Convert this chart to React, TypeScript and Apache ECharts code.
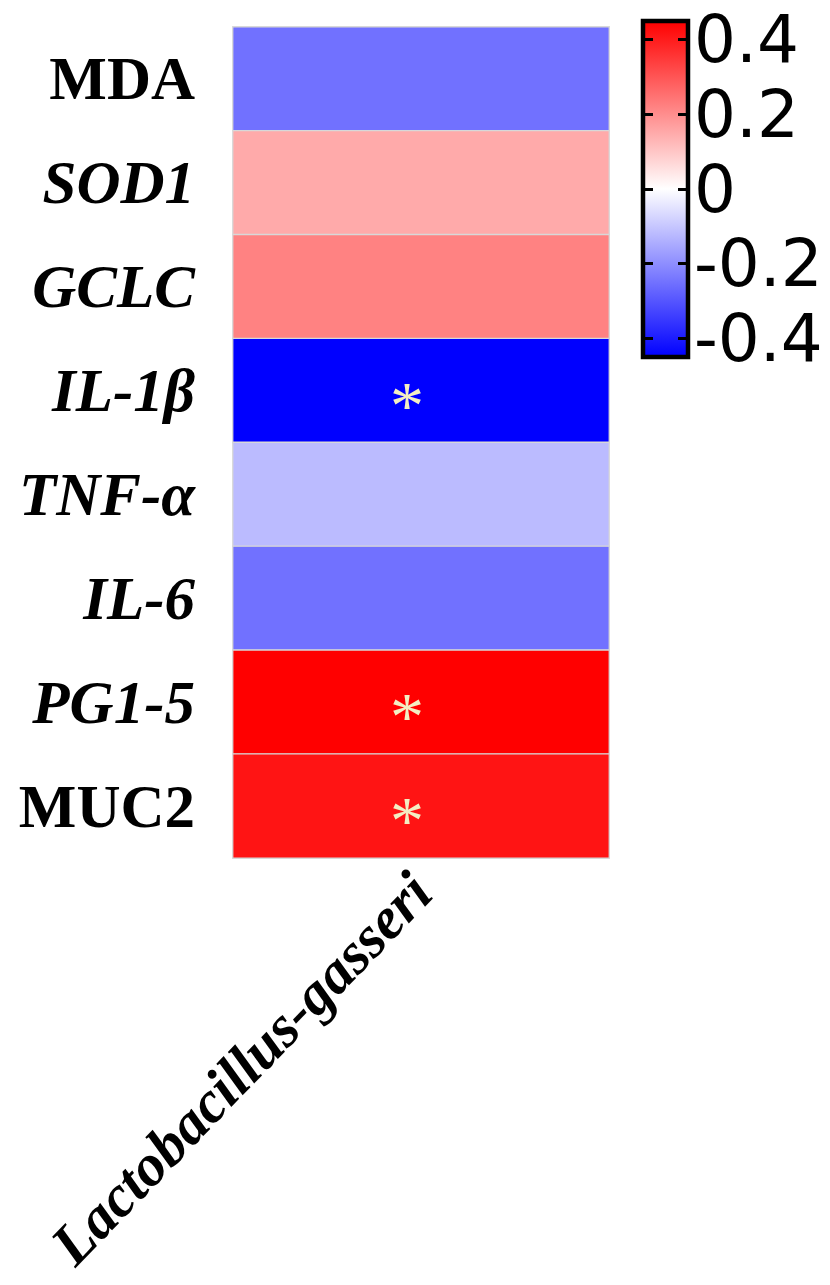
import React, { useEffect, useRef } from "react";
import * as echarts from "echarts";

const columns = ["Lactobacillus-gasseri"];
const rows = ["MDA", "SOD1", "GCLC", "IL-1β", "TNF-α", "IL-6", "PG1-5", "MUC2"];
const italicRows = [false, true, true, true, true, true, true, false];
const values = [-0.25, 0.15, 0.22, -0.46, -0.12, -0.25, 0.46, 0.415];
const significant = [false, false, false, true, false, false, true, true];
const colorMin = -0.45;
const colorMax = 0.45;
const colorbarTicks = [-0.4, -0.2, 0, 0.2, 0.4];
const colorbarColors = ["#0000ff", "#ffffff", "#ff0000"];

export default function App() {
  const ref = useRef<HTMLDivElement>(null);
  useEffect(() => {
    if (!ref.current) return;
    const chart = echarts.init(ref.current, undefined, { renderer: "svg" });
    const data = values.map((v, i) => [0, i, v]);
    const labelFont = {
      fontFamily: "Liberation Serif",
      fontWeight: "bold" as const,
      fontSize: 61,
      color: "#000",
    };
    const cb = { left: 643, top: 21, width: 45, height: 336 };
    chart.setOption({
      animation: false,
      backgroundColor: "#fff",
      grid: [
        { left: 233, top: 27, width: 376, height: 831, outerBoundsMode: "none", containLabel: false },
        {
          left: cb.left,
          top: cb.top,
          width: cb.width,
          height: cb.height,
          outerBoundsMode: "none",
          containLabel: false,
        },
      ],
      xAxis: [
        {
          type: "category",
          data: columns,
          gridIndex: 0,
          axisLine: { show: false },
          axisTick: { show: false },
          axisLabel: {
            rotate: 46,
            margin: 24,
            ...labelFont,
            fontSize: 59,
            fontStyle: "italic",
          },
        },
        { type: "value", gridIndex: 1, show: false, min: 0, max: 1 },
      ],
      yAxis: [
        {
          type: "category",
          data: rows,
          inverse: true,
          gridIndex: 0,
          axisLine: { show: false },
          axisTick: { show: false },
          axisLabel: {
            margin: 38,
            formatter: (v: string, i: number) => (italicRows[i] ? `{i|${v}}` : `{n|${v}}`),
            rich: {
              i: { ...labelFont, fontStyle: "italic" },
              n: { ...labelFont, fontStyle: "normal" },
            },
          },
        },
        {
          type: "value",
          gridIndex: 1,
          position: "left",
          min: colorMin,
          max: colorMax,
          z: 10,
          axisLine: { show: false },
          splitLine: { show: false },
          axisTick: {
            show: true,
            inside: true,
            length: 10,
            customValues: colorbarTicks,
            lineStyle: { color: "#000", width: 3 },
          },
          axisLabel: { show: false },
        },
        {
          type: "value",
          gridIndex: 1,
          position: "right",
          min: colorMin,
          max: colorMax,
          z: 10,
          axisLine: { show: false },
          splitLine: { show: false },
          axisTick: {
            show: true,
            inside: true,
            length: 10,
            customValues: colorbarTicks,
            lineStyle: { color: "#000", width: 3 },
          },
          axisLabel: {
            show: true,
            customValues: colorbarTicks,
            margin: 6,
            fontFamily: "DejaVu Sans",
            fontSize: 66,
            color: "#000",
            formatter: (v: number) => (v === 0 ? "0" : String(Math.round(v * 10) / 10)),
          },
        },
      ],
      visualMap: {
        show: false,
        seriesIndex: 0,
        min: colorMin,
        max: colorMax,
        inRange: { color: colorbarColors },
      },
      graphic: [
        {
          type: "rect",
          z: 1,
          shape: { x: cb.left, y: cb.top, width: cb.width, height: cb.height },
          style: {
            fill: new echarts.graphic.LinearGradient(0, 0, 0, 1, [
              { offset: 0, color: colorbarColors[2] },
              { offset: 0.5, color: colorbarColors[1] },
              { offset: 1, color: colorbarColors[0] },
            ]),
            stroke: "#000",
            lineWidth: 4.5,
          },
        },
      ],
      series: [
        {
          type: "heatmap",
          xAxisIndex: 0,
          yAxisIndex: 0,
          data,
          itemStyle: { borderColor: "#d8d8d8", borderWidth: 1.3 },
          label: {
            show: true,
            formatter: (p: any) => (significant[p.data[1]] ? "*" : ""),
            color: "#F3EEC3",
            fontSize: 68,
            fontFamily: "Liberation Serif",
            offset: [-14, 14],
          },
        },
      ],
    });
    return () => chart.dispose();
  }, []);
  return (
    <div
      ref={ref}
      style={{ position: "absolute", left: 0, top: 0, width: 830, height: 1285 }}
    />
  );
}
